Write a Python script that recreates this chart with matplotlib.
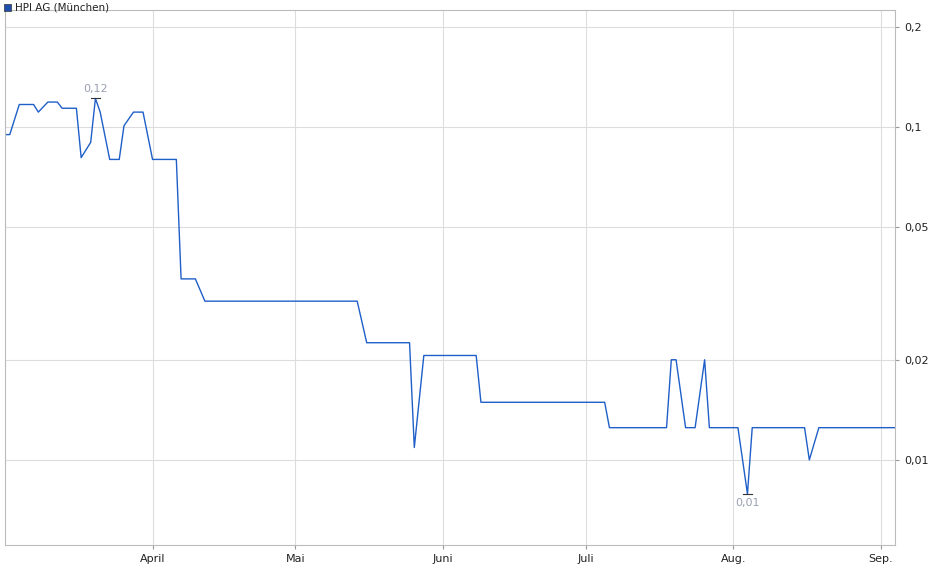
import matplotlib
matplotlib.use("Agg")
import matplotlib.pyplot as plt
import matplotlib.dates as mdates
from matplotlib.ticker import FixedLocator, NullLocator
import pandas as pd

dates = ["2023-03-01","2023-03-02","2023-03-04","2023-03-07","2023-03-08","2023-03-10","2023-03-12",
         "2023-03-13","2023-03-16","2023-03-17","2023-03-19","2023-03-20","2023-03-21","2023-03-23",
         "2023-03-25","2023-03-26","2023-03-28","2023-03-30","2023-04-01","2023-04-06","2023-04-07",
         "2023-04-10","2023-04-12","2023-05-14","2023-05-16","2023-05-25","2023-05-26","2023-05-28",
         "2023-06-08","2023-06-09","2023-07-05","2023-07-06","2023-07-18","2023-07-19","2023-07-20",
         "2023-07-22","2023-07-24","2023-07-26","2023-07-27","2023-08-02","2023-08-04","2023-08-05",
         "2023-08-16","2023-08-17","2023-08-19","2023-09-04"]
values = [0.095,0.095,0.117,0.117,0.111,0.119,0.119,
          0.114,0.114,0.081,0.090,0.122,0.111,0.080,
          0.080,0.101,0.111,0.111,0.080,0.080,0.035,
          0.035,0.030,0.030,0.0225,0.0225,0.0109,0.0206,
          0.0206,0.0149,0.0149,0.0125,0.0125,0.020,0.020,
          0.0125,0.0125,0.020,0.0125,0.0125,0.0079,0.0125,
          0.0125,0.0100,0.0125,0.0125]
ytick_vals = [0.01, 0.02, 0.05, 0.1, 0.2]
ytick_labels = ["0,01", "0,02", "0,05", "0,1", "0,2"]
month_ticks = ["2023-04-01","2023-05-01","2023-06-01","2023-07-01","2023-08-01","2023-09-01"]
month_labels = ["April", "Mai", "Juni", "Juli", "Aug.", "Sep."]

x = pd.to_datetime(dates)
fig = plt.figure(figsize=(9.4, 5.79), dpi=100)
ax = fig.add_axes([5/940, 34/579, 890/940, 535/579])
ax.plot(x, values, color="#1f5fc8", lw=1.0)
ax.set_yscale("log")
ax.set_ylim(0.00555, 0.225)
ax.set_xlim(x[0], x[-1])
ax.yaxis.set_major_locator(FixedLocator(ytick_vals))
ax.yaxis.set_minor_locator(NullLocator())
ax.set_yticklabels(ytick_labels)
ax.yaxis.tick_right()
mt = pd.to_datetime(month_ticks)
ax.set_xticks(mt)
ax.set_xticklabels(month_labels)
ax.tick_params(labelsize=8, length=3, color="#999999", labelcolor="#222222")
ax.grid(True, color="#dddddd", lw=0.8)
for s in ax.spines.values():
    s.set_color("#bbbbbb")

imax = values.index(max(values)); imin = values.index(min(values))
ax.plot([x[imax]-pd.Timedelta(days=1), x[imax]+pd.Timedelta(days=1)], [values[imax]]*2, color="#333333", lw=0.8)
ax.annotate("0,12", (x[imax], values[imax]), xytext=(0, 3), textcoords="offset points",
            ha="center", va="bottom", fontsize=8, color="#99a0b0")
ax.plot([x[imin]-pd.Timedelta(days=1), x[imin]+pd.Timedelta(days=1)], [values[imin]]*2, color="#333333", lw=0.8)
ax.annotate("0,01", (x[imin], values[imin]), xytext=(0, -3), textcoords="offset points",
            ha="center", va="top", fontsize=8, color="#99a0b0")

fig.patches.append(plt.Rectangle((4/940, 1-11/579), 7/940, 7/579, transform=fig.transFigure,
                                 facecolor="#1f4fa8", edgecolor="#333333", lw=0.5))
fig.text(15/940, 1-7.5/579, "HPI AG (München)", fontsize=7.5, va="center", ha="left", color="#222222")
fig.savefig("out.png", dpi=100)
